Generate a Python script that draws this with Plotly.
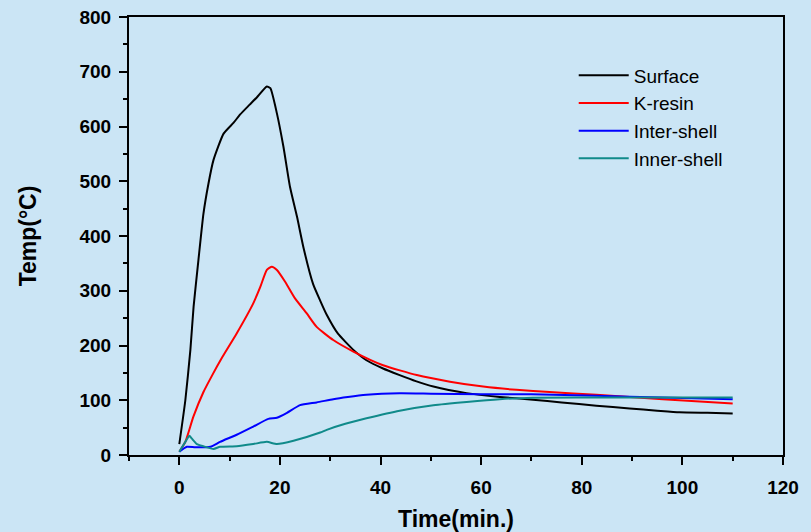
import plotly.graph_objects as go

# ---- data ----
surface_x = [0, 1.2, 2.2, 2.84, 3.8, 4.8, 5.8, 6.8, 8.8, 10.8, 12.1, 14.0, 15.4, 17.4, 18.1, 19.4,
             20.7, 22.0, 23.4, 24.7, 26.6, 28.0, 29.3, 31.5, 34.6, 37.2, 40.5, 43.8, 47, 50.5,
             57.1, 63.7, 70.3, 76, 82.9, 89.5, 95, 99.4, 105, 110]
surface_y = [20, 100, 192, 271, 356, 441, 496, 539, 587, 607, 622, 640, 653, 673, 670, 624,
             563, 490, 435, 378, 312, 282, 256, 222, 192, 173, 158, 146, 135, 125,
             113, 106, 101, 96, 90, 85, 81, 78, 77, 76]

kresin_x = [0, 1.2, 2.8, 4.8, 6.5, 8.5, 11.4, 14.7, 16.1, 17.4, 18.4, 19.4, 21.0, 23.0, 25.3,
            27.3, 30.6, 34.6, 40.5, 47.2, 53.8, 60.4, 67.0, 73.6, 82.9, 96.1, 110]
kresin_y = [6, 24, 70, 115, 145, 178, 222, 277, 307, 338, 344, 338, 317, 286, 259,
            234, 210, 189, 164, 146, 134, 125, 119, 115, 110, 102, 94]

inter_x = [0, 1.5, 3.2, 6.2, 8.1, 11.4, 14.7, 17.7, 19.4, 21.4, 24.0, 27.3, 30.6, 33.5, 37.2,
           43.8, 50, 60, 70, 82.9, 96.1, 110]
inter_y = [6, 15, 14, 15, 24, 37, 52, 66, 68, 77, 91, 96, 102, 106, 110,
           112.6, 112, 111, 111, 108, 105, 102]

inner_x = [0, 1.2, 2.0, 2.5, 3.5, 4.8, 6.8, 8.1, 11.4, 14.7, 17.4, 19.4, 22.7, 28, 29.3, 33,
           37.2, 43.8, 50.5, 57.1, 63.7, 70.3, 80, 90, 100, 110]
inner_y = [6, 24, 35, 30, 20, 16, 11, 15, 16, 20, 24, 20, 26, 41, 46, 57,
           67, 81, 91, 97, 102, 104.7, 105, 105, 105, 105]

series_names = ["Surface", "K-resin", "Inter-shell", "Inner-shell"]
series_colors = ["#000000", "#ff0000", "#0000ff", "#108a8a"]

x_ticks = [0, 20, 40, 60, 80, 100, 120]
y_ticks = [0, 100, 200, 300, 400, 500, 600, 700, 800]

BG = "#cbe5f5"
FONT = "Arial, Liberation Sans, sans-serif"

fig = go.Figure()
for name, xs, ys, col in zip(series_names,
                             [surface_x, kresin_x, inter_x, inner_x],
                             [surface_y, kresin_y, inter_y, inner_y],
                             series_colors):
    fig.add_trace(go.Scatter(x=xs, y=ys, mode="lines", name=name,
                             line=dict(color=col, width=2, shape="spline", smoothing=0.5)))

axis_common = dict(
    showgrid=False, zeroline=False, showline=True, linecolor="black", linewidth=2,
    mirror=True, ticks="outside", ticklen=8, tickwidth=2, tickcolor="black",
    tickfont=dict(family=FONT, size=19, color="black", weight="bold"),
)

fig.update_xaxes(range=[-10, 120], tickvals=x_ticks, ticktext=[str(v) for v in x_ticks],
                 minor=dict(dtick=10, tick0=0, ticks="outside", ticklen=4, tickwidth=2, tickcolor="black"),
                 title=dict(text="Time(min.)", font=dict(family=FONT, size=23, color="black", weight="bold"),
                            standoff=28),
                 ticklabelstandoff=6,
                 **axis_common)
fig.update_yaxes(range=[0, 800], tickvals=y_ticks, ticktext=[str(v) for v in y_ticks],
                 minor=dict(dtick=50, tick0=0, ticks="outside", ticklen=4, tickwidth=2, tickcolor="black"),
                 title=dict(text="Temp(°C)", font=dict(family=FONT, size=23, color="black", weight="bold"),
                            standoff=36),
                 ticklabelstandoff=4,
                 **axis_common)

fig.update_layout(
    width=811, height=532,
    margin=dict(l=129, r=28, t=17, b=77, autoexpand=False),
    paper_bgcolor=BG, plot_bgcolor=BG,
    font=dict(family=FONT, color="black"),
    showlegend=True,
    legend=dict(x=0.68, y=0.91, xanchor="left", yanchor="top",
                bgcolor="rgba(0,0,0,0)", borderwidth=0,
                font=dict(family=FONT, size=19, color="black"),
                itemwidth=50, tracegroupgap=0),
)

fig.write_html("out.html",
               config={"displayModeBar": False},
               post_script="document.body.style.margin='0px';document.body.style.padding='0px';")
